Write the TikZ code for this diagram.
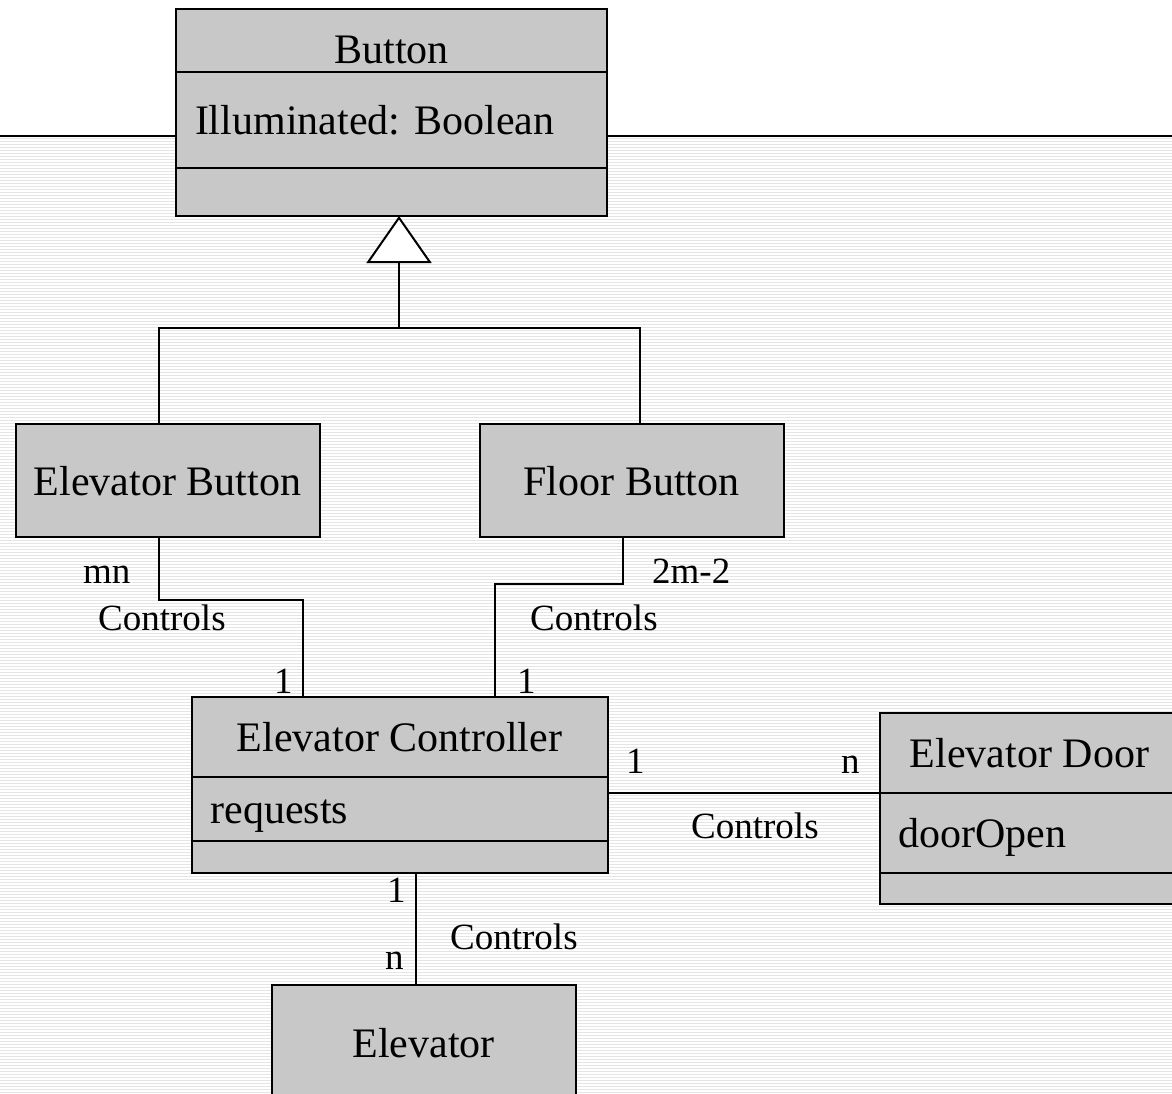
\documentclass[tikz,border=0pt]{standalone}
\usepackage{fontspec}
\setmainfont{Liberation Serif}
\usetikzlibrary{positioning,arrows.meta}

\definecolor{boxgray}{RGB}{200,200,200}
\definecolor{stripegray}{RGB}{229,229,229}

\newcommand\classfont{\fontsize{42}{50}\selectfont\frenchspacing}
\newcommand\multfont{\fontsize{37}{44}\selectfont}

\tikzset{
    classpart/.style={draw, fill=boxgray, line width=2pt, inner sep=0pt, outer sep=0pt,
        text height=29pt, text depth=0pt, font=\classfont},
    attrpart/.style={classpart, inner xsep=19pt, text width=#1-38pt, align=left},
    opspart/.style={classpart, text height=0pt},
    mult/.style={font=\multfont, anchor=base west, inner sep=0pt},
    assoc/.style={line width=2pt},
    generalization/.style={line width=2pt,
        -{Triangle[open, fill=white, length=47pt, width=65pt]}}
}

\begin{document}
\begin{tikzpicture}[
        x=1pt, y=-1pt
    ]
    \useasboundingbox (0,0) rectangle (1172,1093);
    \fill[white] (0,0) rectangle (1172,1093);
    \foreach \y in {138.5,141.5,...,1092.5}
        \draw[stripegray, line width=1pt] (0,\y) -- (1172,\y);
    \draw[line width=2pt] (0,136) -- (1172,136);

    % Button
    \node[classpart, minimum width=431pt, minimum height=63pt, anchor=north west,
        text height=45pt] (btn) at (176,9) {Button};
    \node[attrpart=431pt, minimum height=96pt, below=0pt of btn] (btnattr) {Illuminated: Boolean};
    \node[opspart, minimum width=431pt, minimum height=48pt, below=0pt of btnattr] (btnops) {};

    % subclasses
    \node[classpart, minimum width=304pt, minimum height=113pt, anchor=north west] (ebtn) at (15.5,424) {Elevator Button};
    \node[classpart, minimum width=304pt, minimum height=113pt, anchor=north west] (fbtn) at (479.5,424) {Floor Button};

    % Elevator Controller
    \node[classpart, minimum width=416pt, minimum height=80pt, anchor=north west] (ectl) at (191.5,697) {Elevator Controller};
    \node[attrpart=416pt, minimum height=64pt, below=0pt of ectl] (ectlattr) {requests};
    \node[opspart, minimum width=416pt, minimum height=32pt, below=0pt of ectlattr] (ectlops) {};

    % Elevator Door
    \node[classpart, minimum width=300pt, minimum height=80pt, anchor=north west] (door) at (879.5,713) {Elevator Door};
    \node[attrpart=300pt, minimum height=80pt, below=0pt of door] (doorattr) {doorOpen};
    \node[opspart, minimum width=300pt, minimum height=31pt, below=0pt of doorattr] (doorops) {};

    % Elevator
    \node[classpart, minimum width=304pt, minimum height=115pt, anchor=north west] (elev) at (271.5,985) {Elevator};

    % generalization
    \coordinate (genjoin) at (399,328);
    \draw[generalization] (genjoin) -- (btnops.south -| genjoin);
    \draw[assoc] ([xshift=-8.5pt]ebtn.north) |- (genjoin) -| ([xshift=8.5pt]fbtn.north);

    % associations
    \draw[assoc] ([xshift=-8.5pt]ebtn.south) -- ++(0,63) -| ([xshift=-96.5pt]ectl.north);
    \draw[assoc] ([xshift=-8.5pt]fbtn.south) -- ++(0,47) -| ([xshift=95.5pt]ectl.north);
    \draw[assoc] (ectlattr.east |- door.south) -- (door.south west);
    \draw[assoc] ([xshift=-7.5pt]elev.north) -- ([xshift=-7.5pt]elev.north |- ectlops.south);

    % multiplicities and names
    \node[mult] (ebmult) at (83,583) {mn};
    \node[mult] (ebname) at (98,630) {Controls};
    \node[mult] (ebone) at (274,693) {1};
    \node[mult] (fbmult) at (652,583) {2m-2};
    \node[mult] (fbname) at (530,630) {Controls};
    \node[mult] (fbone) at (517,693) {1};
    \node[mult] (doorone) at (626,773) {1};
    \node[mult] (doormult) at (841,773) {n};
    \node[mult] (doorname) at (691,838) {Controls};
    \node[mult] (elevone) at (387,902) {1};
    \node[mult] (elevmult) at (385,969) {n};
    \node[mult] (elevname) at (450,949) {Controls};
\end{tikzpicture}
\end{document}
